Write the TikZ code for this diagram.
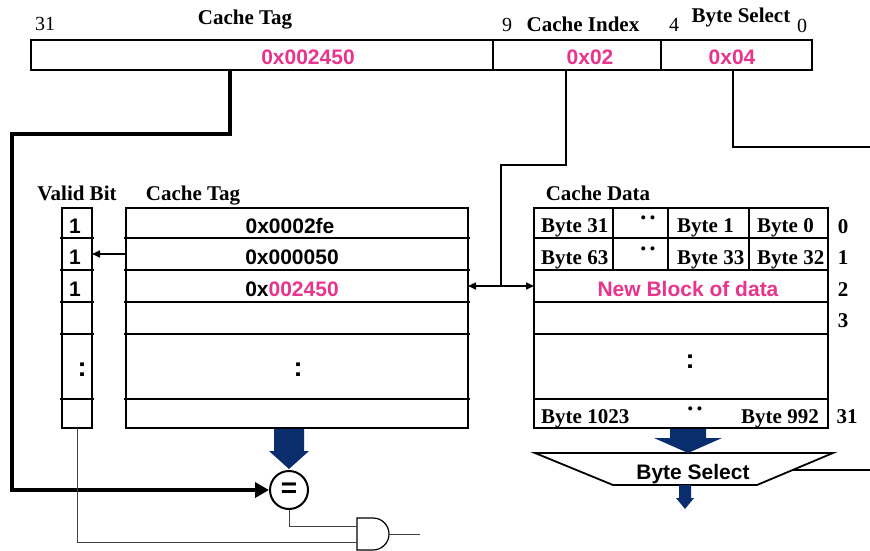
\documentclass[tikz,border=0pt]{standalone}
\usepackage{fontspec}
\setmainfont{Liberation Serif}
\setsansfont{Liberation Sans}
\usetikzlibrary{arrows.meta,calc}
\definecolor{hpink}{RGB}{232,52,140}
\definecolor{navy}{RGB}{10,45,110}
\begin{document}
\begin{tikzpicture}[x=1pt,y=-1pt,
  sblbl/.style={font=\fontsize{21}{24}\selectfont\bfseries, inner sep=0pt},
  snum/.style={font=\fontsize{20}{24}\selectfont, inner sep=0pt},
  hexb/.style={font=\fontsize{21}{24}\selectfont\sffamily\bfseries, inner sep=0pt},
  vdot/.style={font=\fontsize{27}{27}\selectfont\sffamily\bfseries, inner sep=0pt},
  tbox/.style={draw, line width=1.8pt, inner sep=0pt, outer sep=0pt},
  rowline/.style={line width=1.8pt},
  wire/.style={line width=1.6pt},
  thinwire/.style={line width=1pt, black!75},
  fat/.style={line width=4pt},
  bdots/.style={font=\fontsize{17}{17}\selectfont, inner sep=0pt},
  smalltip/.style={-{Triangle[length=8pt,width=7pt]}}
]
\useasboundingbox (0,0) rectangle (870,551);

% ---- address bar
\node[tbox, minimum width=462pt, minimum height=30pt] (tagf) at (262,55) {};
\node[tbox, minimum width=168pt, minimum height=30pt] (idxf) at (577,55) {};
\node[tbox, minimum width=151pt, minimum height=30pt] (bsf) at (736.5,55) {};
\node[hexb, text=hpink, anchor=base] (tagv) at (308,64) {0x002450};
\node[hexb, text=hpink, anchor=base] (idxv) at (590,64) {0x02};
\node[hexb, text=hpink, anchor=base] (bsv) at (732,64) {0x04};

\node[snum, anchor=base] (b31) at (45,31) {31};
\node[sblbl, anchor=base] (ltag) at (245,25) {Cache Tag};
\node[snum, anchor=base] (b9) at (507,32) {9};
\node[sblbl, anchor=base] (lidx) at (583,32) {Cache Index};
\node[snum, anchor=base] (b4) at (674,32) {4};
\node[sblbl, anchor=base] (lbs) at (741,23) {Byte Select};
\node[snum, anchor=base] (b0) at (802,33) {0};

% ---- tables
\node[tbox, minimum width=30pt, minimum height=220pt] (valid) at (77,318) {};
\node[tbox, minimum width=342pt, minimum height=220pt] (tagtab) at (297,318) {};
\node[tbox, minimum width=294pt, minimum height=220pt] (datatab) at (681,318) {};
\foreach \y in {238,270,302,334,399} {
  \draw[rowline] (60,\y) -- (94,\y);
  \draw[rowline] (124,\y) -- (470,\y);
  \draw[rowline] (534,\y) -- (828,\y);
}
\foreach \x in {613,668,749} \draw[rowline] (\x,208) -- (\x,270);

\node[sblbl, anchor=base] (lvalid) at (77,200) {Valid Bit};
\node[sblbl, anchor=base] (lctag) at (193,200) {Cache Tag};
\node[sblbl, anchor=base] (ldata) at (598,200) {Cache Data};

% valid bits
\node[hexb, anchor=base] (v0) at (75,233) {1};
\node[hexb, anchor=base] (v1) at (75,264) {1};
\node[hexb, anchor=base] (v2) at (75,296) {1};
\node[vdot] (vdots) at (82,370) {:};

% tags
\node[hexb, anchor=base] (t0) at (290,233) {0x0002fe};
\node[hexb, anchor=base] (t1) at (292,264) {0x000050};
\node[hexb, anchor=base] (t2) at (292,296) {0x\textcolor{hpink}{002450}};
\node[vdot] (tdots) at (298,370) {:};

% data
\node[sblbl, anchor=base west] (d00) at (541,232) {Byte 31};
\node[bdots] (d01) at (648,220) {\textbullet\hspace{3.5pt}\textbullet};
\node[sblbl, anchor=base west] (d02) at (677,232) {Byte 1};
\node[sblbl, anchor=base west] (d03) at (757,232) {Byte 0};
\node[sblbl, anchor=base west] (d10) at (541,264) {Byte 63};
\node[bdots] (d11) at (648,251) {\textbullet\hspace{3.5pt}\textbullet};
\node[sblbl, anchor=base west] (d12) at (677,264) {Byte 33};
\node[sblbl, anchor=base west] (d13) at (757,264) {Byte 32};
\node[hexb, text=hpink, anchor=base] (d2) at (688,296) {New Block of data};
\node[vdot] (ddots) at (690,362) {:};
\node[sblbl, anchor=base west] (d50) at (541,423) {Byte 1023};
\node[bdots] (d51) at (695,411) {\textbullet\hspace{3.5pt}\textbullet};
\node[sblbl, anchor=base east] (d52) at (819,423) {Byte 992};

\node[sblbl, anchor=base] (n0) at (843,233) {0};
\node[sblbl, anchor=base] (n1) at (843,264) {1};
\node[sblbl, anchor=base] (n2) at (843,296) {2};
\node[sblbl, anchor=base] (n3) at (843,327) {3};
\node[sblbl, anchor=base] (n31) at (847,423) {31};

% ---- comparator
\node[draw, circle, line width=2pt, minimum size=38pt, inner sep=0pt, fill=white,
      font=\fontsize{28}{28}\selectfont\sffamily\bfseries] (eq) at (289,490) {=};
\fill[navy] (274,429) -- (304,429) -- (304,451) -- (309,451) -- (289,469)
  -- (269,451) -- (274,451) -- cycle;

% ---- byte select mux
\draw[line width=1.8pt, fill=white] (535,453) -- (833,453) -- (757,485) -- (613,485) -- cycle;
\node[hexb, anchor=base] (bsel) at (693,479) {Byte Select};
\fill[navy] (670,429) -- (706,429) -- (706,438) -- (722,438) -- (688,453)
  -- (654,438) -- (670,438) -- cycle;
\fill[navy] (679,485) -- (691,485) -- (691,498) -- (694,498) -- (685,509)
  -- (676,498) -- (679,498) -- cycle;

% ---- AND gate
\draw[line width=1.2pt, fill=white] (357,518) -- (373,518)
  arc[start angle=90, end angle=-90, radius=16pt] -- (357,550) -- cycle;
\coordinate (gin1) at (357,526);
\coordinate (gin2) at (357,542);
\coordinate (gout) at (389,534);
\coordinate (andend) at (420,534);

% ---- connectors
\coordinate (tagx) at (230,0);
\coordinate (idxx) at (566,0);
\coordinate (bsx) at (733,0);
\coordinate (r1) at (0,254);
\coordinate (r2) at (0,286);
\coordinate (bsend) at (870,147);
\coordinate (bsout) at (793,470);
\coordinate (bsoutend) at (870,470);

\draw[fat, -{Triangle[length=14pt,width=15pt]}] (tagf.south -| tagx) -- (230,134)
  -- (12,134) -- (12,490) -- (eq.west);
\draw[wire] (idxf.south -| idxx) -- (566,165) -| (501,286);
\draw[wire, {Triangle[length=8pt,width=7pt]}-{Triangle[length=8pt,width=7pt]}]
  (tagtab.east |- r2) -- (datatab.west |- r2);
\draw[wire] (bsf.south -| bsx) -- (733,147) -- (bsend);
\draw[wire, smalltip] (tagtab.west |- r1) -- (valid.east |- r1);
\draw[wire] (bsout) -- (bsoutend);
\draw[thinwire] (eq.south) |- (gin1);
\draw[thinwire] (valid.south) |- (gin2);
\draw[thinwire] (gout) -- (andend);
\end{tikzpicture}
\end{document}
